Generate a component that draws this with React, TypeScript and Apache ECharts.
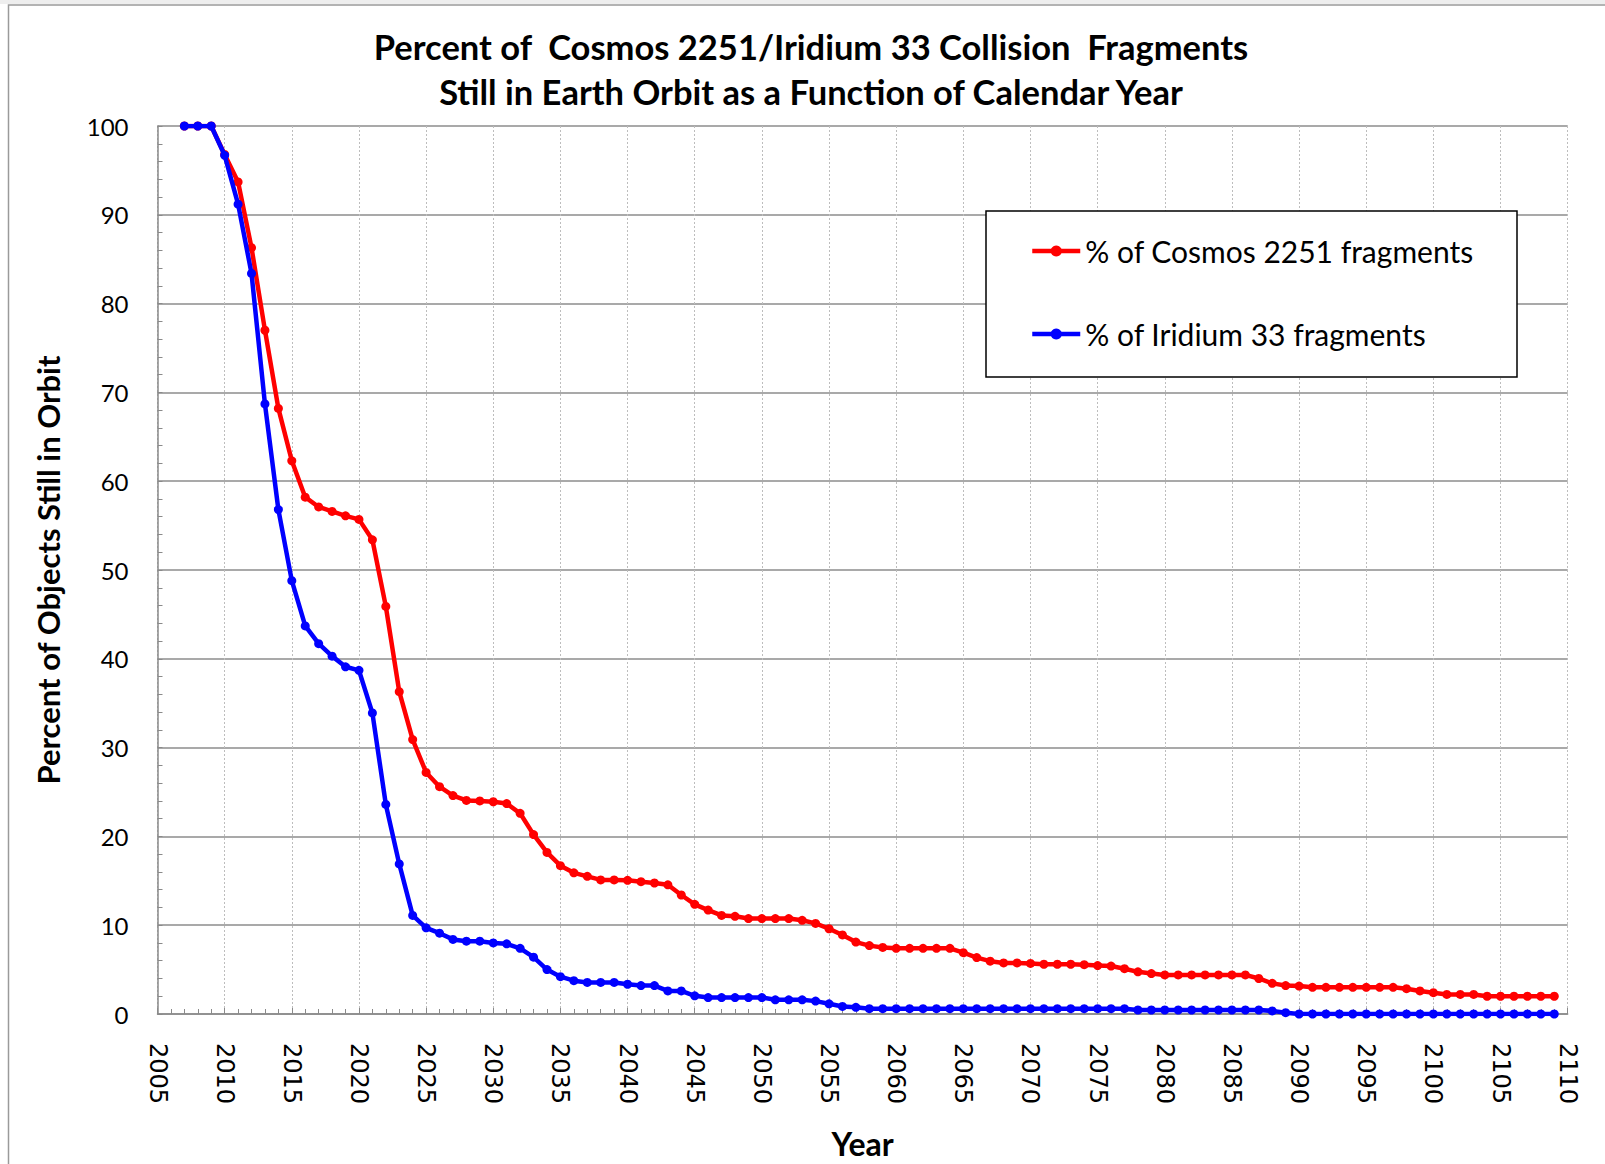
import React, { useEffect, useRef } from "react";
import * as echarts from "echarts";

const START_YEAR = 2007;

const cosmos: number[] = [
  100, 100, 100, 96.8, 93.7, 86.3, 77.0, 68.2, 62.3, 58.2,
  57.1, 56.6, 56.1, 55.7, 53.4, 45.9, 36.3, 30.9, 27.2, 25.6,
  24.6, 24.05, 24.0, 23.9, 23.7, 22.6, 20.2, 18.2, 16.7, 15.9,
  15.5, 15.1, 15.1, 15.05, 14.9, 14.75, 14.55, 13.4, 12.35, 11.7,
  11.1, 11.0, 10.75, 10.75, 10.75, 10.75, 10.55, 10.2, 9.6, 8.9,
  8.1, 7.7, 7.5, 7.4, 7.4, 7.4, 7.4, 7.4, 6.9, 6.35,
  5.95, 5.75, 5.75, 5.7, 5.6, 5.6, 5.6, 5.55, 5.45, 5.4,
  5.1, 4.75, 4.55, 4.4, 4.4, 4.4, 4.4, 4.4, 4.4, 4.4,
  4.0, 3.45, 3.2, 3.15, 3.0, 3.0, 3.0, 3.0, 3.0, 3.0,
  3.0, 2.85, 2.6, 2.4, 2.2, 2.2, 2.2, 2.0, 2.0, 2.0,
  2.0, 2.0, 2.0,
];

const iridium: number[] = [
  100, 100, 100, 96.7, 91.2, 83.4, 68.7, 56.8, 48.8, 43.7,
  41.7, 40.3, 39.1, 38.7, 33.9, 23.6, 16.9, 11.1, 9.7, 9.1,
  8.4, 8.2, 8.2, 8.0, 7.9, 7.4, 6.4, 5.0, 4.2, 3.75,
  3.55, 3.55, 3.55, 3.35, 3.2, 3.2, 2.6, 2.6, 2.05, 1.85,
  1.85, 1.85, 1.85, 1.85, 1.6, 1.6, 1.6, 1.45, 1.15, 0.85,
  0.75, 0.6, 0.6, 0.6, 0.6, 0.6, 0.6, 0.6, 0.6, 0.6,
  0.6, 0.6, 0.6, 0.6, 0.6, 0.6, 0.6, 0.6, 0.6, 0.6,
  0.6, 0.45, 0.45, 0.45, 0.45, 0.45, 0.45, 0.45, 0.45, 0.45,
  0.45, 0.35, 0.15, 0.0, 0.0, 0.0, 0.0, 0.0, 0.0, 0.0,
  0.0, 0.0, 0.0, 0.0, 0.0, 0.0, 0.0, 0.0, 0.0, 0.0,
  0.0, 0.0, 0.0,
];

const seriesNames = ["% of Cosmos 2251 fragments", "% of Iridium 33 fragments"];
const titleLines = [
  "Percent of  Cosmos 2251/Iridium 33 Collision  Fragments",
  "Still in Earth Orbit as a Function of Calendar Year",
];
const xAxisTitle = "Year";
const yAxisTitle = "Percent of Objects Still in Orbit";

const toPairs = (vals: number[]) => vals.map((v, i) => [START_YEAR + i, v]);

export default function App() {
  const ref = useRef<HTMLDivElement>(null);
  useEffect(() => {
    if (!ref.current) return;
    const chart = echarts.init(ref.current, undefined, { renderer: "svg" });
    const font = "Lato, 'Open Sans', sans-serif";
    chart.setOption({
      animation: false,
      backgroundColor: "#ffffff",
      grid: { left: 157.5, right: 37.3, top: 126, bottom: 148.5, containLabel: false },
      graphic: [
        { type: "rect", z: 0, shape: { x: 0, y: 0, width: 1605, height: 4 }, style: { fill: "#eeeeee" } },
        {
          type: "rect", z: 0, silent: true,
          shape: { x: 8.5, y: 5, width: 1700, height: 1300 },
          style: { fill: "none", stroke: "#9a9a9a", lineWidth: 1.5 },
        },
        {
          type: "rect", z: 3,
          shape: { x: 986, y: 211, width: 531, height: 166 },
          style: { fill: "#ffffff", stroke: "#000000", lineWidth: 1.5 },
        },
        {
          type: "text", z: 5, x: 811, y: 46,
          style: { text: titleLines[0], font: `bold 34.5px ${font}`, fill: "#000", align: "center", verticalAlign: "middle" },
        },
        {
          type: "text", z: 5, x: 811, y: 91,
          style: { text: titleLines[1], font: `bold 34.5px ${font}`, fill: "#000", align: "center", verticalAlign: "middle" },
        },
      ],
      legend: {
        orient: "vertical",
        left: 986,
        top: 211,
        padding: [25, 20, 27, 44],
        itemWidth: 48,
        itemHeight: 14,
        itemGap: 53,
        z: 6,
        lineStyle: { width: 4.5 },
        textStyle: { fontFamily: font, fontSize: 30, color: "#000", lineHeight: 28 },
        data: seriesNames,
      },
      xAxis: {
        type: "value",
        min: 2005,
        max: 2110,
        interval: 5,
        name: xAxisTitle,
        nameLocation: "middle",
        nameGap: 113,
        nameTextStyle: { fontFamily: font, fontSize: 32, fontWeight: "bold", color: "#000" },
        axisLine: { show: true, lineStyle: { color: "#8a8a8a", width: 1.5 } },
        axisTick: { show: true, inside: true, length: 6, lineStyle: { color: "#8a8a8a", width: 1 } },
        minorTick: { show: true, splitNumber: 5, length: 5, lineStyle: { color: "#8a8a8a", width: 1 } },
        axisLabel: {
          rotate: -90,
          margin: 29,
          fontFamily: "'DejaVu Sans', sans-serif",
          fontSize: 24,
          color: "#000",
          formatter: (v: number) => String(v),
        },
        splitLine: { show: true, lineStyle: { color: "#bdbdbd", width: 1, type: [2, 2] } },
      },
      yAxis: {
        type: "value",
        min: 0,
        max: 100,
        interval: 10,
        name: yAxisTitle,
        nameLocation: "middle",
        nameGap: 94,
        nameTextStyle: { fontFamily: font, fontSize: 31, fontWeight: "bold", color: "#000" },
        axisLine: { show: true, lineStyle: { color: "#8a8a8a", width: 1.5 } },
        axisTick: { show: true, inside: true, length: 5, lineStyle: { color: "#8a8a8a", width: 1 } },
        minorTick: { show: true, splitNumber: 5, length: 5, lineStyle: { color: "#8a8a8a", width: 1 } },
        axisLabel: { margin: 29, fontFamily: font, fontSize: 24, color: "#000" },
        splitLine: { show: true, lineStyle: { color: "#8c8c8c", width: 1.5 } },
      },
      series: [
        {
          name: seriesNames[0],
          type: "line",
          data: toPairs(cosmos),
          symbol: "circle",
          symbolSize: 9,
          lineStyle: { color: "#ff0000", width: 4.5 },
          itemStyle: { color: "#ff0000" },
          z: 2,
        },
        {
          name: seriesNames[1],
          type: "line",
          data: toPairs(iridium),
          symbol: "circle",
          symbolSize: 9,
          lineStyle: { color: "#0000ff", width: 4.5 },
          itemStyle: { color: "#0000ff" },
          z: 3,
        },
      ],
    });
    return () => chart.dispose();
  }, []);
  return (
    <div
      ref={ref}
      style={{ position: "absolute", left: 0, top: 0, width: 1605, height: 1164 }}
    />
  );
}
